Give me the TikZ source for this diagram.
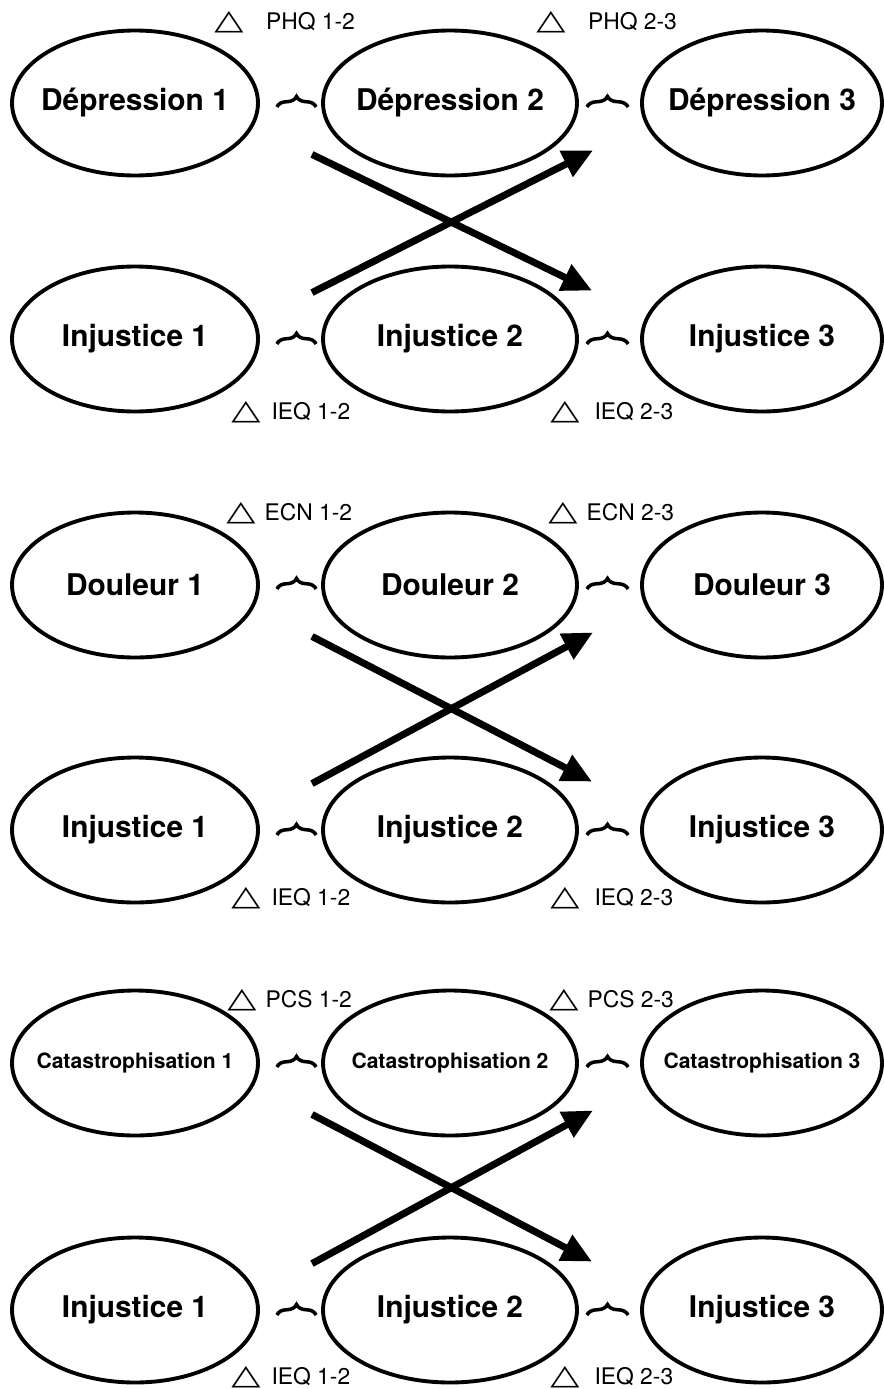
\documentclass[tikz,border=0pt]{standalone}
\usepackage{fontspec}
\setmainfont{TeX Gyre Heros}
\newfontfamily\trifont{DejaVu Sans}
\usetikzlibrary{shapes.geometric,arrows.meta,decorations.pathreplacing,calc,positioning}
\tikzstyle{latent}=[draw,ellipse,line width=2.2pt,minimum height=2.9cm,inner xsep=-0.6cm,inner ysep=0pt,font=\bfseries\fontsize{17}{17}\selectfont]
\tikzstyle{change}=[anchor=west,inner sep=0pt,font=\fontsize{13}{15}\selectfont]
\tikzstyle{tilde}=[line width=2pt,decorate,decoration={brace,amplitude=6pt}]
\tikzstyle{cross}=[line width=4pt,->]
\newcommand{\tri}{\scalebox{1.35}[1]{\trifont\fontsize{16}{16}\selectfont △}}
\newcommand{\namefont}[1]{\bfseries\fontsize{#1}{#1}\selectfont}

\begin{document}
\begin{tikzpicture}[x=0.02cm,y=-0.02cm,>={Triangle[length=0.6cm,width=0.55cm]}]
\useasboundingbox (0,0) rectangle (884,1389);
\foreach \b/\yt/\yb/\lt/\lb/\fs/\name/\q/\qx/\gap in {
  1/103/339/22/412/17/Dépression/PHQ/0/0.45cm,
  2/585/830/513/898/17/Douleur/ECN/12/0.18cm,
  3/1063/1310/1000/1377/12/Catastrophisation/PCS/13/0.18cm}
{
  % top row and injustice row
  \node[latent,minimum width=4.92cm,font={\namefont{\fs}}] (t1-\b) at (135,\yt) {\name\ 1};
  \node[latent,minimum width=5.08cm,font={\namefont{\fs}}] (t2-\b) at (450,\yt) {\name\ 2};
  \node[latent,minimum width=4.8cm,font={\namefont{\fs}}] (t3-\b) at (762,\yt) {\name\ 3};
  \node[latent,minimum width=4.92cm] (i1-\b) at (135,\yb) {Injustice 1};
  \node[latent,minimum width=5.08cm] (i2-\b) at (450,\yb) {Injustice 2};
  \node[latent,minimum width=4.8cm] (i3-\b) at (762,\yb) {Injustice 3};
  % change scores
  \node[change] (lt1-\b) at (214+\qx,\lt) {\tri\hspace{\gap}\q\ 1-2};
  \node[change] (lt2-\b) at (536+\qx,\lt) {\tri\hspace{\gap}\q\ 2-3};
  \node[change] (lb1-\b) at (231,\lb) {\tri\hspace{0.22cm}IEQ 1-2};
  \node[change] (lb2-\b) at (550,\lb) {\tri\hspace{0.3cm}IEQ 2-3};
  \draw[tilde] ([shift={(17,4)}]t1-\b.east) -- ([shift={(-5,4)}]t2-\b.west);
  \draw[tilde] ([shift={(8,4)}]t2-\b.east) -- ([shift={(-12,4)}]t3-\b.west);
  \draw[tilde] ([shift={(17,5)}]i1-\b.east) -- ([shift={(-5,5)}]i2-\b.west);
  \draw[tilde] ([shift={(8,5)}]i2-\b.east) -- ([shift={(-12,5)}]i3-\b.west);
  % cross-lagged paths
  \draw[cross] ($(t2-\b.south)+(-138,-23)$) -- ($(i2-\b.north)+(142,26)$);
  \draw[cross] ($(i2-\b.north)+(-138,28)$) -- ($(t2-\b.south)+(143,-27)$);
}
\end{tikzpicture}
\end{document}
